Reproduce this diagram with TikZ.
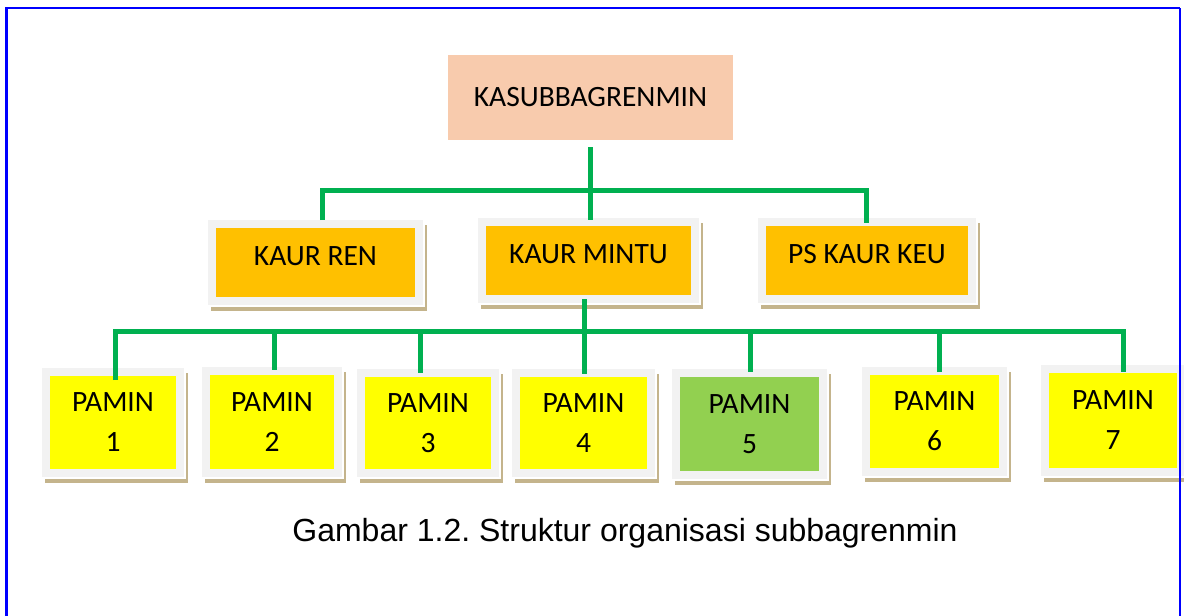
\documentclass[tikz,border=0pt]{standalone}
\usepackage{fontspec}
\setmainfont{Carlito}
\newfontfamily\capfont{Liberation Sans}
\usetikzlibrary{backgrounds}
\definecolor{conngreen}{HTML}{00B050}
\definecolor{boxorange}{HTML}{FFC000}
\definecolor{boxyellow}{HTML}{FFFF00}
\definecolor{boxgreen}{HTML}{92D050}
\definecolor{boxpeach}{HTML}{F8CBAD}
\definecolor{boxrim}{HTML}{F2F2F2}
\definecolor{boxshadow}{HTML}{C4B48C}
\definecolor{frameblue}{HTML}{0000FF}
\frenchspacing
\begin{document}
\begin{tikzpicture}[x=1pt,y=-1pt,
  every node/.style={inner sep=0pt, outer sep=0pt},
  topbox/.style={rectangle, fill=boxpeach, minimum width=285pt, minimum height=85pt,
    font=\fontsize{29.5}{40}\selectfont},
  unitbox/.style={rectangle, fill=#1, draw=boxrim, line width=8pt,
    preaction={draw=white, line width=11pt},
    font=\fontsize{29.5}{40}\selectfont, align=center},
  lvltwo/.style={text depth=13pt},
  conn/.style={draw=conngreen, line width=5pt, line join=miter, line cap=butt}
]
\useasboundingbox (0,0) rectangle (1184,616);

% nodes
\node[topbox] (boss) at (590.5,97.5) {KASUBBAGRENMIN};
\node[unitbox=boxorange, lvltwo, minimum width=207pt, minimum height=77pt] (ren) at (315.5,262.5) {KAUR REN};
\node[unitbox=boxorange, lvltwo, minimum width=213pt, minimum height=77pt] (mintu) at (588.5,260.5) {KAUR MINTU};
\node[unitbox=boxorange, lvltwo, minimum width=210pt, minimum height=77pt] (keu) at (867,260.5) {PS KAUR KEU};

\node[unitbox=boxyellow, minimum width=134pt, minimum height=101pt] (p1) at (113,422.5) {PAMIN\\1};
\node[unitbox=boxyellow, minimum width=132pt, minimum height=102pt] (p2) at (272,422) {PAMIN\\2};
\node[unitbox=boxyellow, minimum width=134pt, minimum height=100pt] (p3) at (428,423) {PAMIN\\3};
\node[unitbox=boxyellow, minimum width=135pt, minimum height=100pt] (p4) at (583.5,423) {PAMIN\\4};
\node[unitbox=boxgreen, minimum width=147pt, minimum height=102pt] (p5) at (749.5,424) {PAMIN\\5};
\node[unitbox=boxyellow, minimum width=137pt, minimum height=101pt] (p6) at (934.5,421.5) {PAMIN\\6};
\node[unitbox=boxyellow, minimum width=136pt, minimum height=103pt] (p7) at (1113,420.5) {PAMIN\\7};

% shadows
\begin{scope}[on background layer]
  \foreach \n in {ren,mintu,keu,p1,p2,p3,p4,p5,p6,p7}
    \fill[boxshadow] ([shift={(-1,1)}]\n.north west) rectangle ([shift={(8,10)}]\n.south east);
\end{scope}

% connectors level 1-2
\coordinate (j1) at (590,190);
\coordinate (jren) at (322,190);
\coordinate (jkeu) at (866,190);
\draw[conn] ([yshift=-7pt]boss.south -| j1) -- ([yshift=2pt]mintu.north -| j1);
\draw[conn] ([yshift=4pt]ren.north -| jren) |- (jkeu) -- ([yshift=-1pt]keu.north -| jkeu);

% connectors level 2-3
\coordinate (k0) at (584,331);
\coordinate (d1) at (115,331);
\coordinate (d2) at (274,331);
\coordinate (d3) at (420,331);
\coordinate (d4) at (584,331);
\coordinate (d5) at (750,331);
\coordinate (d6) at (939,331);
\coordinate (d7) at (1123,331);
\draw[conn] (mintu.south -| k0) -- (k0);
\draw[conn] ([yshift=-8pt]p1.north -| d1) |- (d7) -- ([yshift=-3pt]p7.north -| d7);
\draw[conn] (d2) -- ([yshift=1pt]p2.north -| d2);
\draw[conn] (d3) -- (p3.north -| d3);
\draw[conn] (d4) -- ([yshift=-1pt]p4.north -| d4);
\draw[conn] (d5) -- ([yshift=1pt]p5.north -| d5);
\draw[conn] (d6) -- ([yshift=-1pt]p6.north -| d6);

% caption
\node[font=\capfont\fontsize{32}{38}\selectfont, anchor=base] (cap) at (625,541) {Gambar 1.2. Struktur organisasi subbagrenmin};

% frame
\draw[frameblue, line width=2.5pt] (6.5,616) -- (6.5,8) -- (1180,8);
\draw[frameblue, line width=1.5pt] (1180,8) -- (1180,616);
\end{tikzpicture}
\end{document}
